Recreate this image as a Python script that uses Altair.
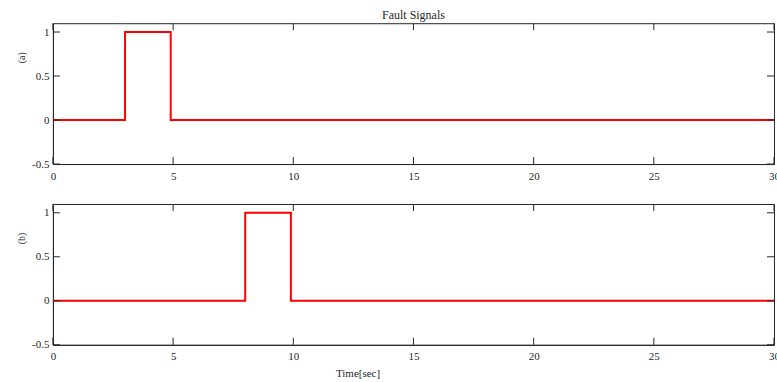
import altair as alt
import pandas as pd

# ---- data ----
time_a = [0, 3, 3, 4.9, 4.9, 30]
sig_a = [0, 0, 1, 1, 0, 0]
time_b = [0, 8, 8, 9.9, 9.9, 30]
sig_b = [0, 0, 1, 1, 0, 0]
x_ticks = [0, 5, 10, 15, 20, 25, 30]
y_ticks = [-0.5, 0, 0.5, 1]

W, H = 722, 141
FONT = "Liberation Serif"
AX = "#262626"
TICK = 7

xs = alt.Scale(domain=[0, 30], nice=False, zero=False)
ys = alt.Scale(domain=[-0.5, 1.1], nice=False, zero=False)


def panel(t, v, ylab, xtitle=None, title=None):
    df = pd.DataFrame({"t": t, "v": v, "i": list(range(len(t)))})
    xt = pd.DataFrame({"x": x_ticks})
    yt = pd.DataFrame({"y": y_ticks})

    xkw = dict(values=x_ticks, ticks=False, grid=False, labelPadding=6,
               labelFont=FONT, labelFontSize=11, labelColor=AX,
               labelExpr="'' + datum.value", domainColor=AX, labelFlush=False)
    if xtitle:
        xkw.update(title=xtitle, titleFont=FONT, titleFontSize=11,
                   titleFontWeight="normal", titleColor=AX, titleX=305,
                   titlePadding=6)
    else:
        xkw.update(title=None)
    xaxis = alt.Axis(**xkw)
    yaxis = alt.Axis(values=y_ticks, ticks=False, grid=False, labelPadding=4,
                     labelFont=FONT, labelFontSize=11, labelColor=AX,
                     labelExpr="'' + datum.value", domainColor=AX,
                     title=ylab, titleFont=FONT, titleFontSize=10,
                     titleFontWeight="normal", titleColor=AX,
                     titleX=-31, titleY=34, titleAlign="center",
                     titleBaseline="middle", titleAngle=270)

    line = alt.Chart(df).mark_line(color="#ff0000", strokeWidth=2).encode(
        x=alt.X("t:Q", scale=xs, axis=xaxis),
        y=alt.Y("v:Q", scale=ys, axis=yaxis),
        order="i:Q",
    )
    rule = dict(color=AX, strokeWidth=1)
    top_t = alt.Chart(xt).mark_rule(**rule).encode(
        x=alt.X("x:Q", scale=xs, axis=xaxis), y=alt.value(0), y2=alt.value(TICK))
    bot_t = alt.Chart(xt).mark_rule(**rule).encode(
        x=alt.X("x:Q", scale=xs, axis=xaxis), y=alt.value(H), y2=alt.value(H - TICK))
    left_t = alt.Chart(yt).mark_rule(**rule).encode(
        y=alt.Y("y:Q", scale=ys, axis=yaxis), x=alt.value(0), x2=alt.value(TICK))
    right_t = alt.Chart(yt).mark_rule(**rule).encode(
        y=alt.Y("y:Q", scale=ys, axis=yaxis), x=alt.value(W), x2=alt.value(W - TICK))

    props = dict(width=W, height=H)
    if title:
        props["title"] = alt.TitleParams(title, font=FONT, fontSize=12,
                                         fontWeight="normal", color=AX,
                                         anchor="middle", frame="group",
                                         baseline="alphabetic", offset=-8)
    return alt.layer(line, top_t, bot_t, left_t, right_t).properties(**props)


top = panel(time_a, sig_a, "(a)", title="Fault Signals")
bottom = panel(time_b, sig_b, "(b)", xtitle="Time[sec]")

chart = alt.vconcat(top, bottom, spacing=40, bounds="flush").properties(
    padding={"left": 16, "top": 8, "right": -3, "bottom": 0},
    background="white",
).configure_view(stroke=AX, strokeWidth=1)

chart.save("out.html", embed_options={"renderer": "svg", "actions": False})
